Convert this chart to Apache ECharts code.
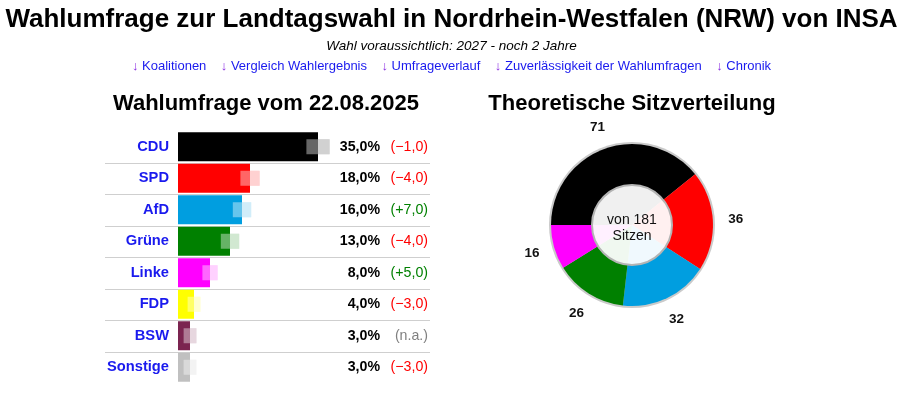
<!DOCTYPE html>
<html><head><meta charset="utf-8">
<script src="https://cdn.jsdelivr.net/npm/echarts@6/dist/echarts.min.js"></script>
<style>html,body{margin:0;padding:0;background:#fff}#c{width:903px;height:393px}</style>
</head><body><div id="c"></div>
<script>
const parties = ['CDU','SPD','AfD','Grüne','Linke','FDP','BSW','Sonstige'];
const values = [35.0, 18.0, 16.0, 13.0, 8.0, 4.0, 3.0, 3.0];
const changes = ['−1,0','−4,0','+7,0','−4,0','+5,0','−3,0','n.a.','−3,0'];
const changeSign = ['neg','neg','pos','neg','pos','neg','na','neg'];
const margins = [2.9, 2.4, 2.3, 2.3, 1.9, 1.6, 1.6, 1.6];
const colors = ['#000000','#ff0000','#009ee0','#008000','#ff00ff','#ffff00','#7b2450','#c0c0c0'];
const seatParties = ['CDU','SPD','AfD','Grüne','Linke'];
const seats = [71, 36, 32, 26, 16];
const seatColors = ['#000000','#ff0000','#009ee0','#008000','#ff00ff'];
const totalSeats = 181;
const links = ['Koalitionen','Vergleich Wahlergebnis','Umfrageverlauf','Zuverlässigkeit der Wahlumfragen','Chronik'];

const FONT = 'Liberation Sans, Arial, sans-serif';
const chart = echarts.init(document.getElementById('c'));

function fmtVal(v){ return v.toFixed(1).replace('.', ',') + '%'; }

const linkText = links.map(l => '{a|↓} {l|' + l + '}').join('    ');
const PIE_C = [632, 225];

const option = {
  animation: false,
  textStyle: { fontFamily: FONT },
  graphic: [
    { type:'text', left:'center', top:7, style:{ text:'Wahlumfrage zur Landtagswahl in Nordrhein-Westfalen (NRW) von INSA', font:'bold 26px ' + FONT, fill:'#000' } },
    { type:'text', left:'center', top:39, style:{ text:'Wahl voraussichtlich: 2027 - noch 2 Jahre', font:'italic 13.5px ' + FONT, fill:'#000' } },
    { type:'text', left:'center', top:60, style:{ text: linkText, font:'13px ' + FONT, rich:{ a:{ fill:'#8a2be2', fontSize:13, fontFamily:FONT }, l:{ fill:'#1a1aee', fontSize:13, fontFamily:FONT } } } },
    { type:'text', x:266, y:93, style:{ text:'Wahlumfrage vom 22.08.2025', font:'bold 22px ' + FONT, fill:'#000', textAlign:'center' } },
    { type:'text', x:632, y:93, style:{ text:'Theoretische Sitzverteilung', font:'bold 22px ' + FONT, fill:'#000', textAlign:'center' } }
  ],
  grid: { left:178, top:131, width:252, height:252 },
  xAxis: { type:'value', min:0, max:63, show:false },
  yAxis: [
    { type:'category', data:parties, inverse:true, position:'left',
      axisLine:{show:false}, axisTick:{show:false}, splitLine:{show:false},
      axisLabel:{ color:'#1a1aee', fontWeight:'bold', fontSize:14.7, margin:9, fontFamily:FONT } },
    { type:'category', data:parties, inverse:true, position:'right',
      axisLine:{show:false}, axisTick:{show:false}, splitLine:{show:false},
      axisLabel:{ align:'right', margin:-2, fontFamily:FONT,
        formatter:(v, i) => '{v|' + fmtVal(values[i]) + '}{' + changeSign[i] + '|(' + changes[i] + ')}',
        rich:{
          v:{ fontWeight:'bold', fontSize:14.2, color:'#000', fontFamily:FONT },
          neg:{ fontSize:14.2, color:'#ff0000', width:48, align:'right', fontFamily:FONT },
          pos:{ fontSize:14.2, color:'#008000', width:48, align:'right', fontFamily:FONT },
          na:{ fontSize:14.2, color:'#808080', width:48, align:'right', fontFamily:FONT }
        } } }
  ],
  series: [
    { type:'custom', z:1, silent:true,
      data: parties.slice(0, parties.length - 1).map((p, i) => [i]),
      encode:{ y:0 },
      renderItem:(params, api) => {
        const i = api.value(0);
        const c = api.coord([0, i]);
        const band = api.size([0, 1])[1];
        const cs = params.coordSys;
        const y = Math.round(c[1] + band / 2) + 0.5;
        return { type:'line', shape:{ x1: cs.x - 73, y1: y, x2: cs.x + cs.width, y2: y },
          style:{ stroke:'#cfcfcf', lineWidth:1 } };
      } },
    { type:'bar', z:2, silent:true, barWidth:29,
      data: values.map((v, i) => ({ value:v, itemStyle:{ color:colors[i] } })) },
    { type:'custom', z:3, silent:true,
      data: values.map((v, i) => [i, v, margins[i]]),
      encode:{ y:0, x:1 },
      renderItem:(params, api) => {
        const i = api.value(0), v = api.value(1), m = api.value(2);
        const p1 = api.coord([v - m, i]);
        const p2 = api.coord([v + m, i]);
        const h = 15;
        const shape = { x: p1[0], y: p1[1] - h / 2, width: p2[0] - p1[0], height: h };
        return { type:'group', children:[
          { type:'rect', shape, style:{ fill:colors[i], opacity:0.3 } },
          { type:'rect', shape, style:{ fill:'#ffffff', opacity:0.4 } }
        ] };
      } },
    { type:'pie', z:1, silent:true, center:PIE_C, radius:[0, 83],
      label:{show:false}, labelLine:{show:false},
      data:[{ value:1, itemStyle:{ color:'#cacaca' } }] },
    { type:'pie', z:2, silent:true, center:PIE_C, radius:[0, 81],
      startAngle:180, clockwise:true, avoidLabelOverlap:false,
      label:{ show:false }, labelLine:{ show:false },
      data: seats.map((s, i) => ({ name:seatParties[i], value:s, itemStyle:{ color:seatColors[i] } })) },
    { type:'pie', z:2, silent:true, center:PIE_C, radius:[80, 122],
      startAngle:180, clockwise:true, avoidLabelOverlap:false,
      label:{ show:true, position:'inside', rotate:0, formatter:'{c}', fontWeight:'bold', fontSize:13.5, color:'#111', fontFamily:FONT },
      labelLine:{ show:false },
      data: seats.map((s, i) => ({ name:seatParties[i], value:s, itemStyle:{ color:'rgba(0,0,0,0)' } })) },
    { type:'pie', z:3, silent:true, center:PIE_C, radius:[0, 40],
      label:{ show:true, position:'center', formatter:'von ' + totalSeats + '\nSitzen', fontSize:14, color:'#111', lineHeight:16, fontFamily:FONT },
      labelLayout:{ dy:3 },
      labelLine:{show:false},
      data:[{ value:1, itemStyle:{ color:'rgba(255,255,255,0.94)', borderColor:'#b4b4b4', borderWidth:2 } }] }
  ]
};
chart.setOption(option);
</script></body></html>
